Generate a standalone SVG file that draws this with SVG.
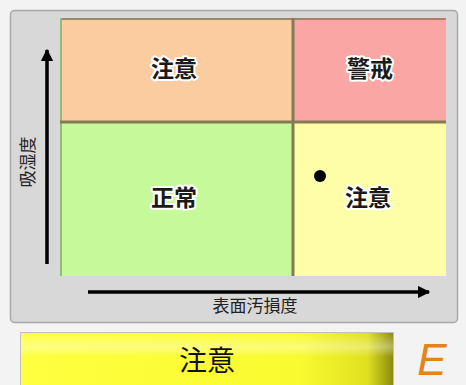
<svg xmlns="http://www.w3.org/2000/svg" width="466" height="385" viewBox="0 0 466 385">
<defs>
<style>
.q{font-family:"Noto Sans CJK JP","Noto Sans CJK SC",sans-serif;font-size:23px;font-weight:bold;fill:#1a1a1a;stroke:#ffffff;stroke-width:4px;stroke-linejoin:round;paint-order:stroke;text-anchor:middle}
.ax{font-family:"Noto Sans CJK JP","Noto Sans CJK SC",sans-serif;font-size:17px;fill:#222;text-anchor:middle}
.axis{stroke:#000;stroke-width:3.5;fill:none}
</style>
<marker id="ah" viewBox="0 0 10 10" refX="9" refY="5" markerWidth="4" markerHeight="3.5" orient="auto" markerUnits="strokeWidth">
<path d="M0,0 L10,5 L0,10 Z" fill="#000"/>
</marker>
<linearGradient id="bar" x1="0" y1="0" x2="1" y2="0">
<stop offset="0" stop-color="#ffff40"/>
<stop offset="0.75" stop-color="#fafa30"/>
<stop offset="0.93" stop-color="#e0e020"/>
<stop offset="1" stop-color="#8a8a10"/>
</linearGradient>
<linearGradient id="shine" x1="0" y1="0" x2="0" y2="1">
<stop offset="0" stop-color="#ffffff" stop-opacity="0"/>
<stop offset="0.35" stop-color="#ffffff" stop-opacity="0.35"/>
<stop offset="0.6" stop-color="#ffffff" stop-opacity="0"/>
</linearGradient>
</defs>
<rect x="0" y="0" width="466" height="385" fill="#f3f3f3"/>
<g id="panel">
<rect x="10.5" y="10.5" width="447" height="312" rx="4" fill="#d8d8d8" stroke="#a8a8a8" stroke-width="1.5"/>
</g>
<g id="grid">
<rect x="60" y="18" width="233" height="104" fill="#fbcc9f"/>
<rect x="293" y="18" width="153" height="104" fill="#f9a6a4"/>
<rect x="60" y="122" width="233" height="154" fill="#c6f99a"/>
<rect x="293" y="122" width="153" height="154" fill="#fefea9"/>
<line x1="60" y1="19" x2="446" y2="19" stroke="#9a8a6a" stroke-width="2"/>
<line x1="61" y1="18" x2="61" y2="276" stroke="#98b878" stroke-width="2"/>
<line x1="60" y1="122" x2="446" y2="122" stroke="#857a55" stroke-width="3"/>
<line x1="293" y1="18" x2="293" y2="276" stroke="#857a55" stroke-width="3"/>
</g>
<g id="q-tl"><text class="q" x="174" y="77">注意</text></g>
<g id="q-tr"><text class="q" x="370" y="77">警戒</text></g>
<g id="q-bl"><text class="q" x="174" y="206">正常</text></g>
<g id="q-br"><text class="q" x="368" y="206">注意</text></g>
<g id="point"><circle cx="320" cy="176" r="6" fill="#000"/></g>
<g id="axes">
<line class="axis" x1="47" y1="264" x2="47" y2="50" marker-end="url(#ah)"/>
<line class="axis" x1="88" y1="292" x2="429" y2="292" marker-end="url(#ah)"/>
</g>
<g id="labels">
<text class="ax" x="255" y="312">表面汚損度</text>
<text class="ax" transform="translate(34,162) rotate(-90)">吸湿度</text>
</g>
<g id="status">
<rect x="20.5" y="332.5" width="373" height="56" fill="url(#bar)" stroke="#c0c0c0" stroke-width="1"/>
<rect x="21" y="333" width="372" height="40" fill="url(#shine)"/>
<text x="207" y="371" font-family="Noto Sans CJK JP, Noto Sans CJK SC, sans-serif" font-size="28" fill="#111" text-anchor="middle">注意</text>
</g>
<g id="grade">
<text x="432" y="375" font-family="Liberation Sans, sans-serif" font-size="44" font-style="italic" fill="#e58314" text-anchor="middle">E</text>
</g>
</svg>
